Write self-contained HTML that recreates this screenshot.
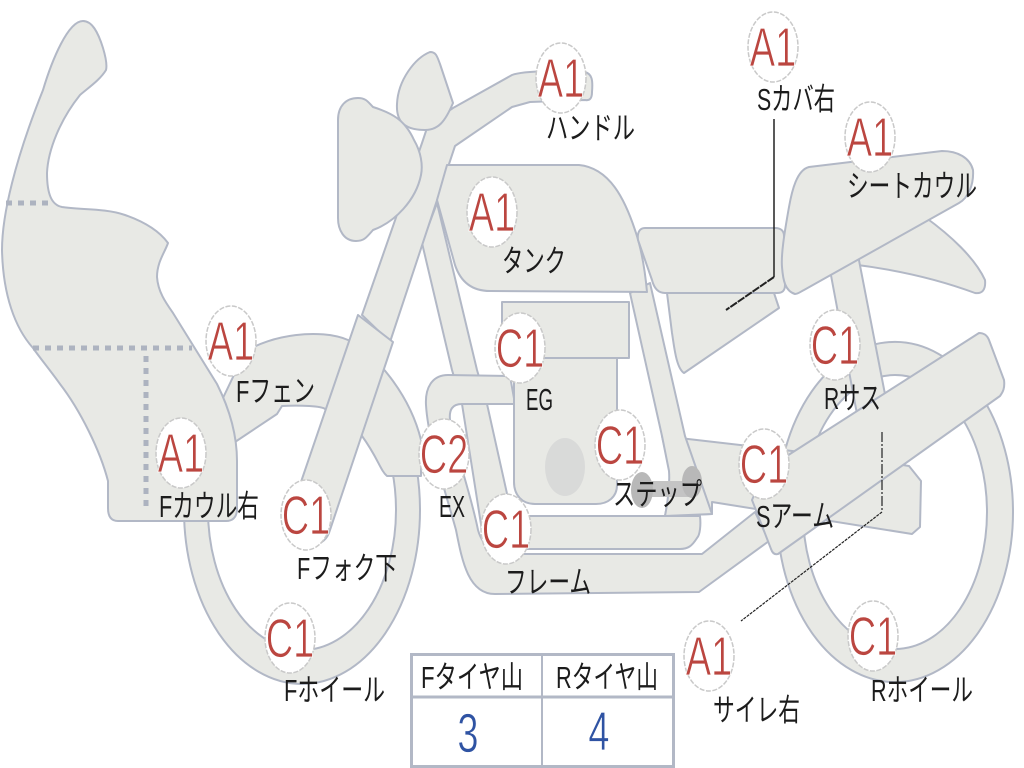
<!DOCTYPE html>
<html lang="ja"><head><meta charset="utf-8"><title>Bike diagram</title>
<style>html,body{margin:0;padding:0;background:#fff}svg{display:block}
.s{fill:#e8e9e5;stroke:#b2b8c6;stroke-width:2;stroke-linejoin:round}
.l{font-family:"Liberation Sans","Noto Sans CJK JP",sans-serif;font-size:31px;fill:#1c1c1c}
.b{fill:#fff;stroke:#c9c9c9;stroke-width:1.5;stroke-dasharray:5 1.5}
.r{font-family:"Liberation Sans",sans-serif;font-size:38px;fill:#bb4640;text-anchor:middle;stroke:#fff;stroke-width:.6}
.n{font-family:"Liberation Sans",sans-serif;font-size:38px;fill:#2f53a3;text-anchor:middle;stroke:#fff;stroke-width:.5}
.d{fill:none;stroke:#adb3c0;stroke-width:5;stroke-dasharray:6 6}
</style></head><body>
<svg width="1024" height="768" viewBox="0 0 1024 768" xmlns="http://www.w3.org/2000/svg">
<defs>
<clipPath id="fw"><rect x="150" y="470" width="300" height="240"/></clipPath>
</defs>
<!-- wheels -->
<g clip-path="url(#fw)"><path class="s" fill-rule="evenodd" d="M184,510a118,174 0 1,0 236,0a118,174 0 1,0 -236,0ZM208,510a94,140 0 1,0 188,0a94,140 0 1,0 -188,0Z"/></g>
<path class="s" fill-rule="evenodd" d="M777,512a118,170 0 1,0 236,0a118,170 0 1,0 -236,0ZM803,512a92,137 0 1,0 184,0a92,137 0 1,0 -184,0Z"/>
<!-- tail / shock -->
<path class="s" d="M925,217C950,235 975,258 985,280C986,290 982,294 975,293C940,280 900,270 850,264Z"/>
<path class="s" d="M830,270L857,250L890,420L860,430Z"/>
<!-- front fender -->
<path class="s" d="M245,352C270,335 320,328 348,340C375,352 410,395 421,440L421,476L387,476C380,470 378,458 362,436L340,405L325,409C322,406 300,405 282,406L277,414L235,442L222,400Z"/>
<!-- frame tube from neck + second lower tube -->
<path class="s" d="M437,203L477,370L487,404L512,516L665,516L700,516C701,525 700,535 697,538C692,546 688,549 680,549L529,549C505,549 495,545 490,537L483,537L462,404L452,370L422,243Z"/>
<!-- exhaust / lower pipe -->
<path class="s" d="M510,376L448,375C432,375 425,388 426,405C428,440 445,490 456,530C462,560 468,594 495,594L699,592L769,541L755,512L702,554L520,554C495,554 483,548 478,530C470,490 453,445 450,420C449,410 452,404 462,404L515,404Z"/>
<!-- swing arm support block -->
<path class="s" d="M662,436L870,460L909,466L921,481L920,527L912,534L712,502L712,514L665,516L672,480Z"/>
<!-- frame tube right -->
<path class="s" d="M630,293L650,283L685,436L712,514L665,516C668,500 670,485 669,471L662,436Z"/>
<!-- engine -->
<path class="s" d="M514,355L617,355L617,485C617,497 608,504 596,504L535,504C522,504 514,495 514,482Z"/>
<rect class="s" x="502" y="302" width="127" height="56"/>
<ellipse cx="565" cy="467" rx="20" ry="29" fill="#d9dad9"/>
<rect x="642" y="481" width="50" height="16" fill="#c4c4c4"/>
<ellipse cx="642" cy="490" rx="11" ry="18" fill="#b8b8b8"/>
<ellipse cx="692" cy="482" rx="10" ry="16" fill="#b8b8b8"/>
<!-- fork + handlebar -->
<path class="s" d="M362,315L422,143L428,125L453,108L512,75C525,70 570,71 585,72C592,74 593,80 592,92C592,98 590,101 585,100L530,102L512,107L455,146L390,342Z"/>
<path class="s" d="M358,315L393,342L330,530C325,548 305,550 298,530C295,510 298,490 302,479Z"/>
<!-- meter and headlight -->
<path class="s" d="M430,52C436,52 437,56 440,64L453,103C445,122 438,130 425,130C405,130 396,122 397,104C398,80 415,58 430,52Z"/>
<path class="s" d="M358,98C366,98 368,102 373,107C392,113 405,120 414,140C421,152 423,165 421,175C416,200 395,222 373,230C366,238 364,241 356,241C344,241 338,230 338,218L338,120C338,106 346,98 358,98Z"/>
<!-- tank -->
<path class="s" d="M447,165L579,165C610,168 625,200 635,230C642,250 645,270 647,292L490,291C470,291 460,280 455,265L437,200Z"/>
<!-- seat base & cover -->
<path class="s" d="M667,293L774,293L779,308L684,373C676,368 674,345 672,333Z"/>
<path class="s" d="M645,228L775,228C781,228 784,231 784,236L785,285C785,290 783,293 777,293L665,293C658,293 654,288 652,280L638,240C637,232 640,228 645,228Z"/>
<path class="s" d="M809,167L942,151C958,151 970,158 973,170C974,185 968,198 959,203L804,290C800,292 798,294 795,294C785,291 783,280 782,267C781,255 784,235 789,207C792,190 797,170 809,167Z"/>
<!-- swing arm -->
<path class="s" d="M979,333C984,333 987,335 989,340L1004,380C1005,388 1003,392 1000,396L778,554C774,555 772,552 771,549L752,500L765,470Z"/>
<!-- cowl -->
<path class="s" d="M83,21C92,21 98,32 103,48C106,58 107,66 106,70C100,80 88,88 80,95C60,120 48,150 47,173C47,195 52,205 62,207C80,210 105,208 125,215C145,222 160,232 168,243C165,252 157,262 157,277C158,292 166,303 173,313L217,384C230,410 237,435 237,461L237,511C236,518 232,521 226,521L118,521C111,521 108,516 108,508L108,481C100,450 80,410 60,384C50,370 40,358 33,348C15,328 3,295 2,250C2,215 15,160 43,90C52,60 68,21 83,21Z"/>
<path class="d" d="M6,203H50"/>
<path class="d" d="M33,348H192"/>
<path class="d" d="M146,356V510"/>
<!-- leaders -->
<path d="M774,119V277" stroke="#222" stroke-width="1.5" fill="none"/>
<path d="M774,277L726,310" stroke="#222" stroke-width="2" stroke-dasharray="8 1" fill="none"/>
<path d="M882,432V512" stroke="#222" stroke-width="1.2" stroke-dasharray="10 2 2 2" fill="none"/>
<path d="M882,512L741,621" stroke="#222" stroke-width="1.2" stroke-dasharray="3 1" fill="none"/>
<!-- badges -->
<g>
<ellipse class="b" cx="561" cy="78" rx="25" ry="35"/><text class="r" transform="translate(561,97) scale(1,1.45)">A1</text>
<ellipse class="b" cx="773" cy="47" rx="25" ry="35"/><text class="r" transform="translate(773,66) scale(1,1.45)">A1</text>
<ellipse class="b" cx="870" cy="137" rx="25" ry="35"/><text class="r" transform="translate(870,156) scale(1,1.45)">A1</text>
<ellipse class="b" cx="492" cy="212" rx="25" ry="35"/><text class="r" transform="translate(492,231) scale(1,1.45)">A1</text>
<ellipse class="b" cx="231" cy="341" rx="25" ry="35"/><text class="r" transform="translate(231,360) scale(1,1.45)">A1</text>
<ellipse class="b" cx="181" cy="453" rx="25" ry="35"/><text class="r" transform="translate(181,472) scale(1,1.45)">A1</text>
<ellipse class="b" cx="520" cy="348" rx="25" ry="35"/><text class="r" transform="translate(520,367) scale(1,1.45)">C1</text>
<ellipse class="b" cx="620" cy="445" rx="25" ry="35"/><text class="r" transform="translate(620,464) scale(1,1.45)">C1</text>
<ellipse class="b" cx="835" cy="345" rx="25" ry="35"/><text class="r" transform="translate(835,364) scale(1,1.45)">C1</text>
<ellipse class="b" cx="764" cy="464" rx="25" ry="35"/><text class="r" transform="translate(764,483) scale(1,1.45)">C1</text>
<ellipse class="b" cx="444" cy="454" rx="25" ry="35"/><text class="r" transform="translate(444,473) scale(1,1.45)">C2</text>
<ellipse class="b" cx="506" cy="529" rx="25" ry="35"/><text class="r" transform="translate(506,548) scale(1,1.45)">C1</text>
<ellipse class="b" cx="306" cy="515" rx="25" ry="35"/><text class="r" transform="translate(306,534) scale(1,1.45)">C1</text>
<ellipse class="b" cx="290" cy="638" rx="25" ry="35"/><text class="r" transform="translate(290,657) scale(1,1.45)">C1</text>
<ellipse class="b" cx="873" cy="636" rx="25" ry="35"/><text class="r" transform="translate(873,655) scale(1,1.45)">C1</text>
<ellipse class="b" cx="709" cy="656" rx="25" ry="35"/><text class="r" transform="translate(709,675) scale(1,1.45)">A1</text>
</g>
<!-- labels -->
<text class="l" x="546" y="139" textLength="89" lengthAdjust="spacingAndGlyphs">ハンドル</text>
<text class="l" x="757" y="110" textLength="78" lengthAdjust="spacingAndGlyphs">Sカバ右</text>
<text class="l" x="847" y="197" textLength="130" lengthAdjust="spacingAndGlyphs">シートカウル</text>
<text class="l" x="502" y="272" textLength="64" lengthAdjust="spacingAndGlyphs">タンク</text>
<text class="l" x="236" y="402" textLength="79" lengthAdjust="spacingAndGlyphs">Fフェン</text>
<text class="l" x="526" y="410" textLength="27" lengthAdjust="spacingAndGlyphs">EG</text>
<text class="l" x="824" y="409" textLength="57" lengthAdjust="spacingAndGlyphs">Rサス</text>
<text class="l" x="756" y="527" textLength="78" lengthAdjust="spacingAndGlyphs">Sアーム</text>
<text class="l" x="613" y="505" textLength="89" lengthAdjust="spacingAndGlyphs">ステップ</text>
<text class="l" x="439" y="517" textLength="26" lengthAdjust="spacingAndGlyphs">EX</text>
<text class="l" x="159" y="517" textLength="100" lengthAdjust="spacingAndGlyphs">Fカウル右</text>
<text class="l" x="297" y="579" textLength="100" lengthAdjust="spacingAndGlyphs">Fフォク下</text>
<text class="l" x="505" y="593" textLength="86" lengthAdjust="spacingAndGlyphs">フレーム</text>
<text class="l" x="284" y="701" textLength="101" lengthAdjust="spacingAndGlyphs">Fホイール</text>
<text class="l" x="871" y="701" textLength="102" lengthAdjust="spacingAndGlyphs">Rホイール</text>
<text class="l" x="713" y="721" textLength="87" lengthAdjust="spacingAndGlyphs">サイレ右</text>
<!-- table -->
<rect x="411.5" y="654.5" width="262" height="112" fill="#fff" stroke="#b2b8c6" stroke-width="3"/>
<line x1="411" y1="697" x2="673" y2="697" stroke="#b2b8c6" stroke-width="3"/>
<line x1="542" y1="655" x2="542" y2="767" stroke="#b2b8c6" stroke-width="2"/>
<text class="l" x="421" y="688" textLength="102" lengthAdjust="spacingAndGlyphs">Fタイヤ山</text>
<text class="l" x="556" y="688" textLength="102" lengthAdjust="spacingAndGlyphs">Rタイヤ山</text>
<text class="n" transform="translate(468,752) scale(1,1.45)">3</text>
<text class="n" transform="translate(599,750) scale(1,1.45)">4</text>
</svg>
</body></html>
